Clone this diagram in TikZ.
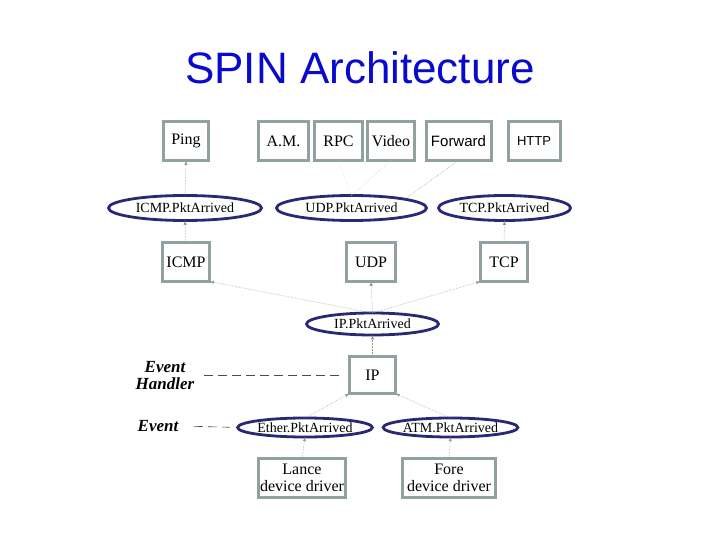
\documentclass[tikz,border=0pt]{standalone}
\usepackage{fontspec}
\setmainfont{Liberation Serif}
\setsansfont{Liberation Sans}
\usepackage{tikz}
\usetikzlibrary{shapes.geometric}
\definecolor{titleblue}{RGB}{10,10,205}
\definecolor{boxgray}{RGB}{145,160,160}
\definecolor{evnavy}{RGB}{40,40,115}
\definecolor{linkgray}{RGB}{150,150,150}
\begin{document}
\begin{tikzpicture}[x=1pt,y=-1pt,
    handler/.style={draw=boxgray, line width=3pt, outer sep=0pt, inner sep=1pt, minimum height=39pt, font=\fontsize{16}{17}\selectfont, align=center},
    event/.style={ellipse, draw=evnavy, line width=2.8pt, outer sep=0pt, inner sep=0pt, minimum height=25pt, font=\fontsize{14}{15}\selectfont},
    link/.style={draw=linkgray, densely dotted, line width=0.5pt, -latex},
    plain/.style={draw=linkgray, densely dotted, line width=0.5pt},
    legend/.style={draw=black!70, dash pattern=on 9pt off 5pt, line width=0.6pt}]
      \useasboundingbox (0,0) rectangle (720,540);
      \node (title) at (360,68) {\sffamily\color{titleblue}\fontsize{44}{48}\selectfont SPIN Architecture};
      % handlers, top row
      \node (ping)  at (186,141)   [handler, minimum width=45pt] {Ping};
      \node (am)    at (283.5,141) [handler, minimum width=50pt] {A.M.};
      \node (rpc)   at (338.5,141) [handler, minimum width=48pt] {RPC};
      \node (video) at (391,141)   [handler, minimum width=47pt] {Video};
      \node (fwd)   at (458.5,141) [handler, minimum width=65pt, font=\sffamily\fontsize{15}{17}\selectfont] {Forward};
      \node (http)  at (534,141)   [handler, minimum width=52pt, font=\sffamily\fontsize{13}{15}\selectfont] {HTTP};
      % events raised by the protocols
      \node (icmpev) at (185,208)   [event, minimum width=153pt] {ICMP.PktArrived};
      \node (udpev)  at (351.5,208) [event, minimum width=150pt] {UDP.PktArrived};
      \node (tcpev)  at (504.5,208) [event, minimum width=132pt] {TCP.PktArrived};
      % protocols
      \node (icmp) at (186,262) [handler, minimum width=47pt] {ICMP};
      \node (udp)  at (371,262) [handler, minimum width=49pt] {UDP};
      \node (tcp)  at (504,262) [handler, minimum width=47pt] {TCP};
      \node (ipev) at (372.5,324) [event, minimum width=132pt, minimum height=22pt] {IP.PktArrived};
      \node (ip)   at (372.5,375) [handler, minimum width=46pt, minimum height=37pt] {IP};
      % device events and drivers
      \node (etherev) at (305,427.5) [event, minimum width=131pt, minimum height=19pt] {Ether.PktArrived};
      \node (atmev)   at (450.5,427.5) [event, minimum width=132pt, minimum height=19pt] {ATM.PktArrived};
      \node (lance) at (302,478) [handler, minimum width=87pt] {Lance\\device driver};
      \node (fore)  at (449,478) [handler, minimum width=93pt] {Fore\\device driver};
      % legend
      \node (handlerlbl) at (165,376) [align=center, font=\fontsize{17}{17}\selectfont\bfseries\itshape] {Event\\Handler};
      \node (eventlbl)   at (158,426) [font=\fontsize{17}{17}\selectfont\bfseries\itshape] {Event};
      \draw[legend, shorten <=6pt, shorten >=11pt] (handlerlbl.east |- ip.west) -- (ip.west);
      \draw[legend, shorten <=12pt, shorten >=8pt] (eventlbl.east) -- (etherev.west);
      % connectors
      \draw[link] (icmpev.north) -- (ping.south);
      \draw[link] (icmp.north) -- (icmpev.south);
      \draw[plain] (udpev.north east) -- (fwd.south);
      \draw[plain, linkgray!40] (udpev.north) -- (rpc.south);
      \draw[plain, linkgray!40] (udpev.north) -- (video.south);
      \draw[link] (tcp.north) -- (tcpev.south);
      \draw[link] (ipev.north) -- (icmp.south east);
      \draw[link] (ipev.north) -- (udp.south);
      \draw[link] (ipev.north) -- (tcp.south west);
      \draw[link] (ip.north) -- (ipev.south);
      \draw[link] (etherev.north) -- (ip.south west);
      \draw[link] (atmev.north) -- (ip.south east);
      \draw[link] (lance.north) -- (etherev.south);
      \draw[link] (fore.north) -- (atmev.south);
    \end{tikzpicture}
\end{document}
